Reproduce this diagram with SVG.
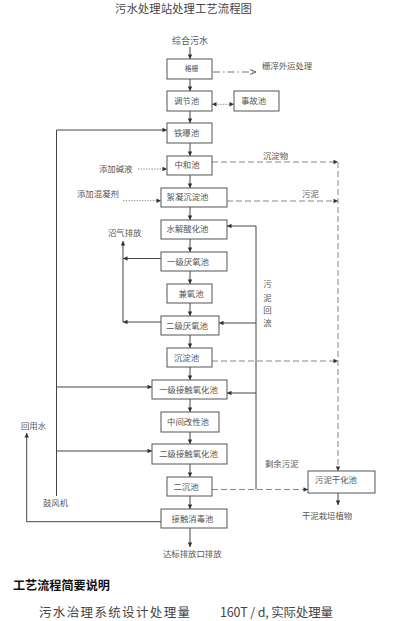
<svg xmlns="http://www.w3.org/2000/svg" width="405" height="621" viewBox="0 0 405 621">
<style>
text{font-family:"Noto Sans CJK SC","Noto Sans",sans-serif;fill:#555;font-size:8.4px}
.box rect{fill:#fff;stroke:#555;stroke-width:1}
.box text{text-anchor:middle}
.c{fill:none;stroke:#444;stroke-width:1}
.d{fill:none;stroke:#888;stroke-width:1;stroke-dasharray:6 3}
.o{fill:none;stroke:#777;stroke-width:0.8;stroke-dasharray:1.5 1.2}
.dd{fill:none;stroke:#777;stroke-width:1;stroke-dasharray:7 3 1.5 3}
</style>
<defs>
<marker id="ah" viewBox="0 0 6 6" refX="6" refY="3" markerWidth="5" markerHeight="4.5" markerUnits="userSpaceOnUse" orient="auto-start-reverse"><path d="M0,0 L6,3 L0,6 z" fill="#333"/></marker>
<marker id="oh" viewBox="0 0 6 6" refX="6" refY="3" markerWidth="6" markerHeight="6" markerUnits="userSpaceOnUse" orient="auto"><path d="M0,0.5 L6,3 L0,5.5" fill="none" stroke="#666" stroke-width="1"/></marker>
</defs>

<text x="183.5" y="12.8" style="font-size:11.6px;text-anchor:middle;fill:#444" textLength="137" lengthAdjust="spacingAndGlyphs">污水处理站处理工艺流程图</text>

<g id="connectors">
<path class="c" d="M190,47 V59" marker-end="url(#ah)"/>
<path class="c" d="M190,79 V91" marker-end="url(#ah)"/>
<path class="c" d="M190,111 V123" marker-end="url(#ah)"/>
<path class="c" d="M190,143 V156" marker-end="url(#ah)"/>
<path class="c" d="M190,175 V188" marker-end="url(#ah)"/>
<path class="c" d="M190,207 V220" marker-end="url(#ah)"/>
<path class="c" d="M190,239 V252" marker-end="url(#ah)"/>
<path class="c" d="M190,271 V284" marker-end="url(#ah)"/>
<path class="c" d="M190,303 V316" marker-end="url(#ah)"/>
<path class="c" d="M190,335 V348" marker-end="url(#ah)"/>
<path class="c" d="M190,367 V380" marker-end="url(#ah)"/>
<path class="c" d="M190,399 V412" marker-end="url(#ah)"/>
<path class="c" d="M190,432 V444" marker-end="url(#ah)"/>
<path class="c" d="M190,464 V477" marker-end="url(#ah)"/>
<path class="c" d="M190,496 V509" marker-end="url(#ah)"/>
<path class="c" d="M190,528 V547" marker-end="url(#ah)"/>
<path class="dd" d="M213,72 H256" marker-end="url(#oh)"/>
<path class="o" d="M212,104.3 H234" marker-start="url(#ah)" marker-end="url(#ah)"/>
<path class="c" d="M56.5,496 V130 H167" marker-end="url(#ah)"/>
<path class="c" d="M56.5,387 H152" marker-end="url(#ah)"/>
<path class="c" d="M56.5,451 H152" marker-end="url(#ah)"/>
<path class="o" d="M138,169 H167" marker-end="url(#ah)"/>
<path class="o" d="M123,200.7 H161" marker-end="url(#ah)"/>
<path class="d" d="M212,162 H338" marker-end="url(#ah)"/>
<path class="d" d="M227,201 H338" marker-end="url(#ah)"/>
<path class="d" d="M212,361 H338" marker-end="url(#ah)"/>
<path class="d" d="M338,162 V471" marker-end="url(#ah)"/>
<path class="d" d="M212,489.5 H308" marker-end="url(#ah)"/>
<path class="c" d="M256,489.5 V226 H227" marker-end="url(#ah)"/>
<path class="c" d="M256,323 H219" marker-end="url(#ah)"/>
<path class="c" d="M256,393 H227" marker-end="url(#ah)"/>
<path class="c" d="M123,322 V241" marker-end="url(#ah)"/>
<path class="c" d="M161,258.5 H123" marker-end="url(#ah)"/>
<path class="c" d="M161,322 H123" marker-end="url(#ah)"/>
<path class="c" d="M338,493 V505" marker-end="url(#ah)"/>
<path class="c" d="M161,521.7 H26.7 V433" marker-end="url(#ah)"/>
</g>

<g id="n-geshan" class="box"><rect x="167" y="59" width="45" height="20"/><text x="191.5" y="71.3" style="font-size:6.8px">格栅</text></g>
<g id="n-tiaojie" class="box"><rect x="167" y="91" width="45" height="20"/><text x="186.5" y="103.8">调节池</text></g>
<g id="n-shigu" class="box"><rect x="234" y="91" width="45" height="20"/><text x="253.5" y="103.8">事故池</text></g>
<g id="n-tiepu" class="box"><rect x="167" y="123" width="45" height="20"/><text x="186.5" y="136">铁曝池</text></g>
<g id="n-zhonghe" class="box"><rect x="167" y="156" width="45" height="19"/><text x="187" y="168">中和池</text></g>
<g id="n-xuning" class="box"><rect x="161" y="188" width="66" height="19"/><text x="187.5" y="200.3">絮凝沉淀池</text></g>
<g id="n-shuijie" class="box"><rect x="161" y="220" width="66" height="19"/><text x="187.5" y="232.3">水解酸化池</text></g>
<g id="n-yanyang1" class="box"><rect x="161" y="252" width="66" height="19"/><text x="188" y="264.7">一级厌氧池</text></g>
<g id="n-jianyang" class="box"><rect x="167" y="284" width="45" height="19"/><text x="191" y="297">兼氧池</text></g>
<g id="n-yanyang2" class="box"><rect x="161" y="316" width="58" height="19"/><text x="187" y="328.7">二级厌氧池</text></g>
<g id="n-chendian" class="box"><rect x="167" y="348" width="45" height="19"/><text x="186.5" y="361">沉淀池</text></g>
<g id="n-jiechu1" class="box"><rect x="152" y="380" width="75" height="19"/><text x="188.5" y="393">一级接触氧化池</text></g>
<g id="n-zhongjian" class="box"><rect x="161" y="412" width="58" height="20"/><text x="188" y="425.3">中间改性池</text></g>
<g id="n-jiechu2" class="box"><rect x="152" y="444" width="75" height="20"/><text x="188.5" y="457">二级接触氧化池</text></g>
<g id="n-erchen" class="box"><rect x="167" y="477" width="45" height="19"/><text x="186" y="489.7">二沉池</text></g>
<g id="n-xiaodu" class="box"><rect x="161" y="509" width="66" height="19"/><text x="192.5" y="521.7">接触消毒池</text></g>
<g id="n-ganhua" class="box"><rect x="308" y="471" width="67" height="22"/><text x="336" y="483.3">污泥干化池</text></g>

<g id="labels">
<text x="190" y="43.8" style="text-anchor:middle;font-size:9px">综合污水</text>
<text x="262" y="69">栅滓外运处理</text>
<text x="263" y="158.8">沉淀物</text>
<text x="99" y="172">添加碱液</text>
<text x="77" y="197">添加混凝剂</text>
<text x="302" y="197">污泥</text>
<text x="108" y="236">沼气排放</text>
<text x="267.5" y="286.5" style="text-anchor:middle">污</text>
<text x="267.5" y="301" style="text-anchor:middle">泥</text>
<text x="267.5" y="313" style="text-anchor:middle">回</text>
<text x="267.5" y="325.7" style="text-anchor:middle">流</text>
<text x="21" y="428.7">回用水</text>
<text x="43" y="505.7">鼓风机</text>
<text x="265" y="467">剩余污泥</text>
<text x="302" y="519">干泥栽培植物</text>
<text x="163" y="557">达标排放口排放</text>
</g>

<text x="13" y="590" style="font-size:12px;font-weight:bold;fill:#111" textLength="97" lengthAdjust="spacingAndGlyphs">工艺流程简要说明</text>
<text y="617.3" style="font-size:12.5px;fill:#444"><tspan x="39" textLength="151" lengthAdjust="spacing">污水治理系统设计处理量</tspan><tspan x="220" textLength="113" lengthAdjust="spacing">160T / d, 实际处理量</tspan></text>
</svg>
